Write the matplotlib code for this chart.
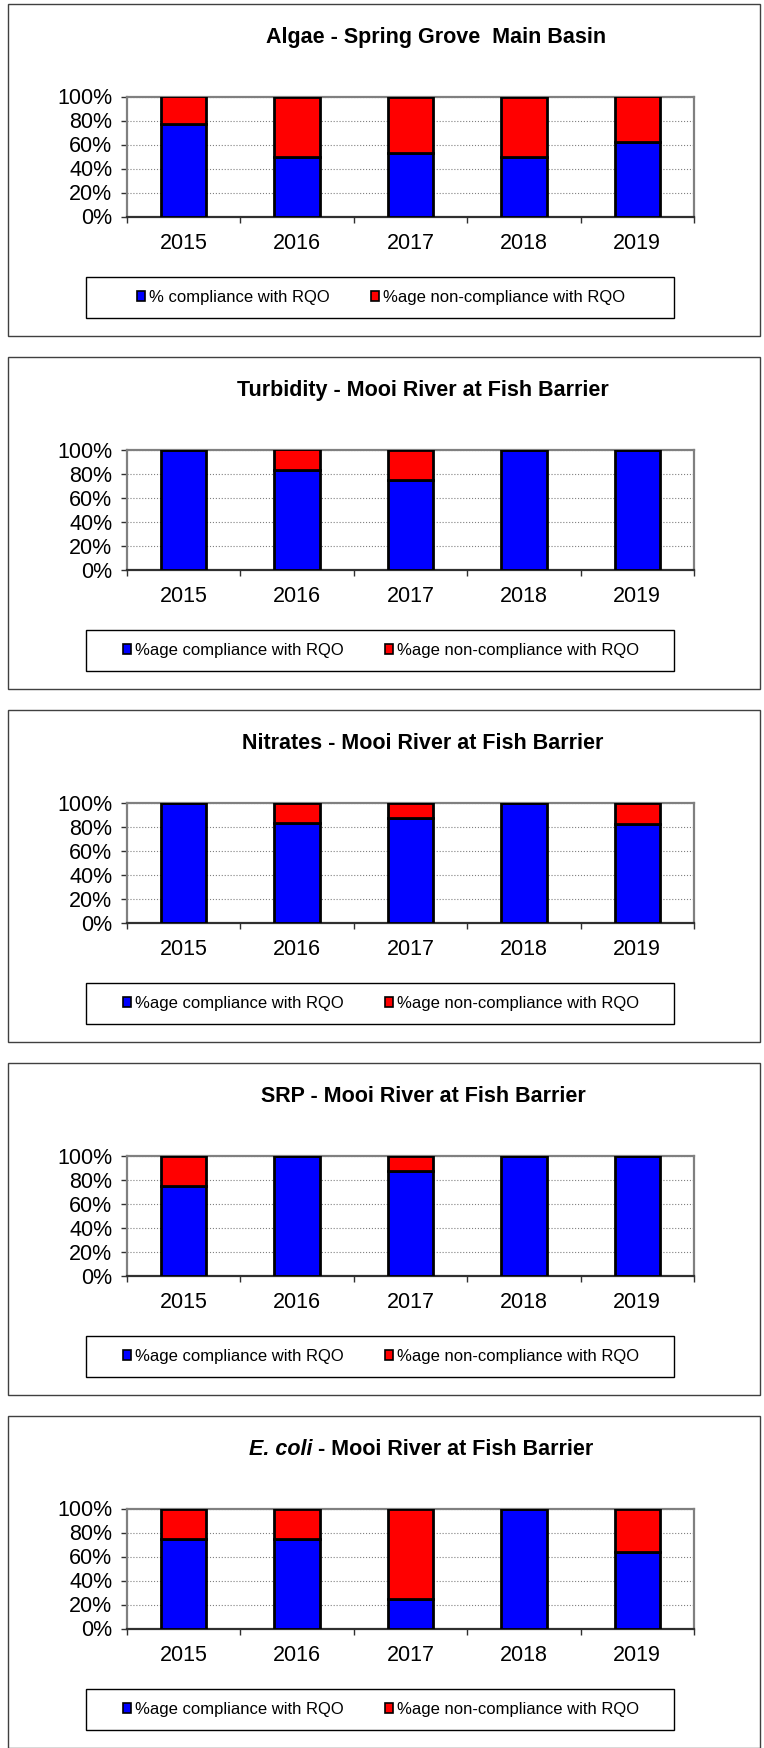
import numpy as np
import matplotlib.pyplot as plt
from matplotlib.patches import Rectangle, Patch
from matplotlib.ticker import PercentFormatter, FixedLocator

plt.rcParams['font.family'] = ['Liberation Sans', 'DejaVu Sans']

# data: % compliance / % non-compliance per year
years = ['2015', '2016', '2017', '2018', '2019']

algae_ok = [77, 50, 53, 50, 62]
algae_bad = [23, 50, 47, 50, 38]
turb_ok = [100, 83.3, 75, 100, 100]
turb_bad = [0, 16.7, 25, 0, 0]
nitr_ok = [100, 83.3, 87.5, 100, 81.8]
nitr_bad = [0, 16.7, 12.5, 0, 18.2]
srp_ok = [75, 100, 87.5, 100, 100]
srp_bad = [25, 0, 12.5, 0, 0]
ecoli_ok = [75, 75, 25, 100, 63.6]
ecoli_bad = [25, 25, 75, 0, 36.4]

titles = [
    [('Algae - Spring Grove  Main Basin', 'normal')],
    [('Turbidity - Mooi River at Fish Barrier', 'normal')],
    [('Nitrates - Mooi River at Fish Barrier', 'normal')],
    [('SRP - Mooi River at Fish Barrier', 'normal')],
    [('E. coli', 'italic'), (' - Mooi River at Fish Barrier', 'normal')],
]
ok_labels = ['% compliance with RQO'] + ['%age compliance with RQO'] * 4
bad_label = '%age non-compliance with RQO'

panels = [(algae_ok, algae_bad), (turb_ok, turb_bad), (nitr_ok, nitr_bad),
          (srp_ok, srp_bad), (ecoli_ok, ecoli_bad)]

W, H = 764, 1748
fig = plt.figure(figsize=(W / 100, H / 100), dpi=100)
renderer = fig.canvas.get_renderer()

def fx(x):
    return x / W

def fy(y):
    return 1 - y / H

frame_top = [4, 357, 710, 1063, 1416]
title_cx = [436, 423, 423, 423, 421]
x = np.arange(len(years))

for i, (ok, bad) in enumerate(panels):
    top = frame_top[i]
    # outer chart frame
    fig.patches.append(Rectangle((fx(7.5), fy(top + 332)), fx(752.5), 332 / H,
                                 transform=fig.transFigure, fill=False,
                                 edgecolor='#404040', lw=1.0))

    ax = fig.add_axes([fx(127), fy(top + 212.5), fx(694 - 127), 120 / H])
    ax.bar(x, ok, width=0.4, color='#0000FF', edgecolor='black', lw=2, zorder=3)
    ax.bar(x, bad, width=0.4, bottom=ok, color='#FF0000', edgecolor='black', lw=2, zorder=3)
    ax.set_xlim(-0.5, 4.5)
    ax.set_ylim(0, 100)
    ax.set_yticks([0, 20, 40, 60, 80, 100])
    ax.yaxis.set_major_formatter(PercentFormatter(decimals=0))
    ax.set_xticks(x)
    ax.set_xticklabels(years)
    ax.xaxis.set_minor_locator(FixedLocator(np.arange(-0.5, 5, 1)))
    ax.tick_params(axis='x', which='major', length=0, pad=12, labelsize=15.5)
    ax.tick_params(axis='x', which='minor', length=4.5, width=1, color='#303030', direction='out')
    ax.tick_params(axis='y', length=4.5, width=1, color='#303030', pad=6, labelsize=15.5)
    ax.yaxis.grid(True, linestyle=':', color='#808080', lw=0.8)
    ax.set_axisbelow(True)
    for s in ['top', 'right', 'left']:
        ax.spines[s].set_color('#808080')
        ax.spines[s].set_linewidth(1.6)
    ax.spines['bottom'].set_color('#303030')
    ax.spines['bottom'].set_linewidth(1.6)

    # title (may have italic part)
    ty = top + 33.5
    txts = []
    for s, st in titles[i]:
        t = fig.text(0, fy(ty), s, fontsize=15.5, fontweight='bold', fontstyle=st,
                     ha='left', va='center')
        txts.append(t)
    widths = [t.get_window_extent(renderer).width for t in txts]
    xx = title_cx[i] - sum(widths) / 2
    for t, w in zip(txts, widths):
        t.set_x(fx(xx))
        xx += w

    # legend box
    ly0, ly1 = top + 273, top + 314
    fig.patches.append(Rectangle((fx(86), fy(ly1)), fx(674 - 86), (ly1 - ly0) / H,
                                 transform=fig.transFigure, fill=False,
                                 edgecolor='black', lw=1.0))
    handles = [Patch(facecolor='#0000FF', edgecolor='black', lw=1.2),
               Patch(facecolor='#FF0000', edgecolor='black', lw=1.2)]
    ax.legend(handles, [ok_labels[i], bad_label], loc='center',
              bbox_to_anchor=(fx(381), fy((ly0 + ly1) / 2)),
              bbox_transform=fig.transFigure, ncol=2, frameon=False,
              fontsize=12, handlelength=0.5, handleheight=0.5,
              handletextpad=0.2, columnspacing=2.5, borderpad=0)

fig.savefig('out.png', dpi=100)
